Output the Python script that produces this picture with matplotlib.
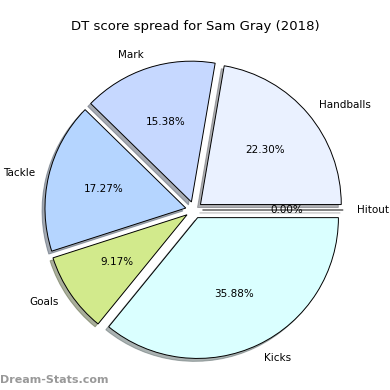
import matplotlib
matplotlib.use("Agg")
import matplotlib.pyplot as plt

# DT score breakdown
categories = ["Hitout", "Handballs", "Mark", "Tackle", "Goals", "Kicks"]
shares = [0.00, 22.30, 15.38, 17.27, 9.17, 35.88]
colors = ["#ffffff", "#eaf1ff", "#c6d8ff", "#b5d5ff", "#d2ea8c", "#daffff"]

fig = plt.figure(figsize=(3.9, 3.9), dpi=100)
ax = fig.add_axes([18 / 390, 4 / 390, 352 / 390, 352 / 390])

ax.pie(shares, labels=categories, colors=colors, explode=[0.06] * len(shares),
       autopct="%.2f%%", startangle=0, counterclock=True,
       shadow={"ox": -0.015, "oy": -0.015, "shade": 0.6},
       wedgeprops={"edgecolor": "black", "linewidth": 0.7},
       textprops={"fontsize": 7.5})
ax.set_aspect("equal")

fig.text(0.5, 0.922, "DT score spread for Sam Gray (2018)", ha="center", fontsize=9.5)
fig.text(0.0, 0.018, "Dream-Stats.com", ha="left", fontsize=8, color="#999999",
         fontweight="bold")

fig.savefig("out.png", dpi=100)
